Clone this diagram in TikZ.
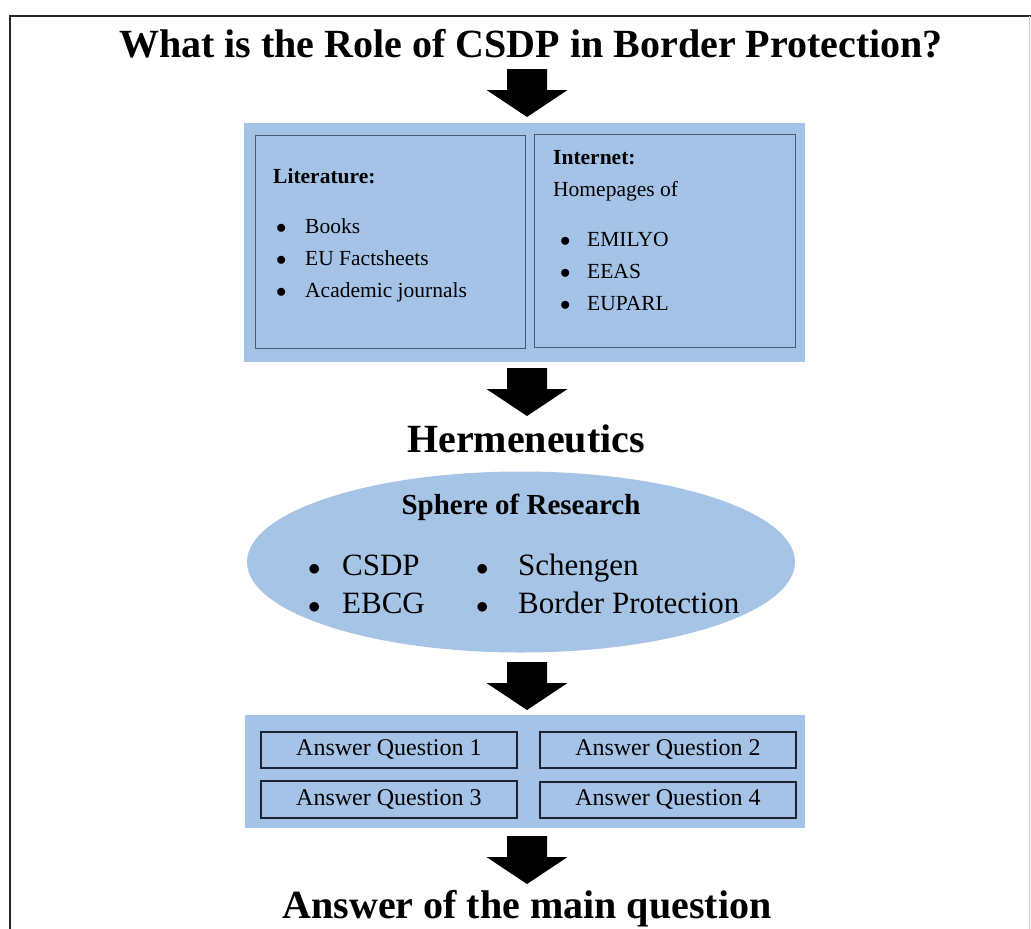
\documentclass[tikz,border=0pt]{standalone}
\usepackage{fontspec}
\setmainfont{Liberation Serif}
\usetikzlibrary{shapes.geometric}
\definecolor{boxblue}{RGB}{164,195,230}
\definecolor{ellblue}{RGB}{166,196,229}
\definecolor{inedge}{RGB}{72,88,112}
\definecolor{qedge}{RGB}{28,36,52}
\newcommand\bul[1]{\makebox[#1][l]{$\bullet$}}
\tikzset{
  heading/.style={font=\fontsize{40}{44}\selectfont\bfseries, inner sep=0pt, anchor=base},
  bigpanel/.style={fill=boxblue, draw=none},
  subpanel/.style={draw=inedge, line width=1pt, fill=boxblue},
  smalltxt/.style={font=\fontsize{21.5}{24}\selectfont, inner sep=0pt, anchor=base west},
  smallbold/.style={font=\fontsize{21.5}{24}\selectfont\bfseries, inner sep=0pt, anchor=base west},
  elltxt/.style={font=\fontsize{31}{34}\selectfont, inner sep=0pt, anchor=base west},
  qbox/.style={draw=qedge, line width=1.8pt, fill=boxblue, minimum width=256pt, minimum height=36pt, inner sep=0pt, font=\fontsize{24}{28}\selectfont},
  blockarrow/.pic={\fill[black] (-20,0) -- (20,0) -- (20,21) -- (40.5,21) -- (0,48) -- (-40.5,21) -- (-20,21) -- cycle;}
}
\begin{document}
\begin{tikzpicture}[x=1pt,y=-1pt]
\useasboundingbox (0,0) rectangle (1031,929);
\fill[white] (0,0) rectangle (1031,929);
% frame
\draw[line width=2pt, black!85] (10,929) -- (10,16) -- (1031,16);
\draw[line width=1pt, black!20] (1029.5,16) -- (1029.5,929);

% title
\node[heading] (title) at (531,57) {What is the Role of CSDP in Border Protection?};
\pic at (527,69) {blockarrow};

% top panel
\node[bigpanel, minimum width=561pt, minimum height=239pt, anchor=north west] (top) at (244,123) {};
\node[subpanel, minimum width=270pt, minimum height=213pt, anchor=north west] (lit) at (255,135) {};
\node[subpanel, minimum width=261pt, minimum height=213pt, anchor=north west] (net) at (534,134) {};

\node[smallbold] (litT) at (273,183) {Literature:};
\node[smalltxt] (l1) at (276,233) {\bul{29pt}Books};
\node[smalltxt] (l2) at (276,265) {\bul{29pt}EU Factsheets};
\node[smalltxt] (l3) at (276,297) {\bul{29pt}Academic journals};

\node[smallbold] (netT) at (553,164) {Internet:};
\node[smalltxt] (netH) at (553,196) {Homepages of};
\node[smalltxt] (n1) at (560,246) {\bul{27pt}EMILYO};
\node[smalltxt] (n2) at (560,278) {\bul{27pt}EEAS};
\node[smalltxt] (n3) at (560,310) {\bul{27pt}EUPARL};

\pic at (527,368) {blockarrow};
\node[heading] (herm) at (526,452) {Hermeneutics};

% ellipse
\node[ellipse, fill=ellblue, minimum width=548pt, minimum height=181pt, inner sep=0pt] (sphere) at (521,562) {};
\node[font=\fontsize{29}{33}\selectfont\bfseries, inner sep=0pt, anchor=base] (sphT) at (521,514) {Sphere of Research};
\node[elltxt] (s1) at (308,575) {\bul{34pt}CSDP};
\node[elltxt] (s2) at (308,613) {\bul{34pt}EBCG};
\node[elltxt] (s3) at (476,575) {\bul{42pt}Schengen};
\node[elltxt] (s4) at (476,613) {\bul{42pt}Border Protection};

\pic at (527,662) {blockarrow};

% answers panel
\node[bigpanel, minimum width=560pt, minimum height=113pt, anchor=north west] (ans) at (245,715) {};
\node[qbox, anchor=north west] (q1) at (260,731) {Answer Question 1};
\node[qbox, anchor=north west] (q2) at (539,731) {Answer Question 2};
\node[qbox, minimum height=37pt, anchor=north west] (q3) at (260,780) {Answer Question 3};
\node[qbox, anchor=north west] (q4) at (539,781) {Answer Question 4};

\pic at (527,836) {blockarrow};
\node[heading] (final) at (527,918) {Answer of the main question};
\end{tikzpicture}
\end{document}
